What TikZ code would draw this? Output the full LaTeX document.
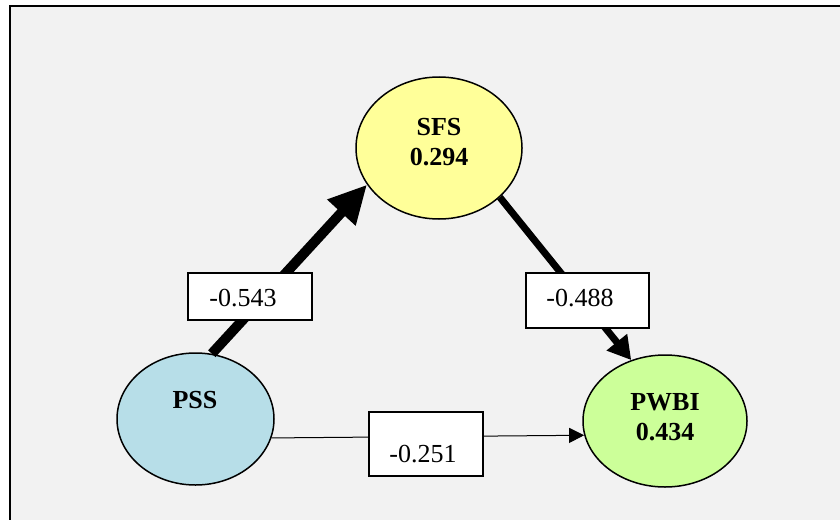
\documentclass[tikz,border=0pt]{standalone}
\usepackage{fontspec}
\setmainfont{Liberation Serif}
\usetikzlibrary{shapes.geometric,arrows.meta}
\definecolor{bgc}{HTML}{F2F2F2}
\definecolor{sfsc}{HTML}{FFFF99}
\definecolor{pssc}{HTML}{B7DEE8}
\definecolor{pwbic}{HTML}{CCFF99}
\tikzset{
  ell/.style={ellipse, draw=black, line width=1.5pt, inner sep=0pt},
  ttl/.style={font=\bfseries\fontsize{26}{30}\selectfont, align=center, inner sep=0pt},
  valbox/.style={rectangle, draw=black, line width=1.5pt, fill=white, inner sep=0pt},
  valtxt/.style={font=\fontsize{26}{30}\selectfont, inner sep=0pt},
}
\begin{document}
\begin{tikzpicture}[x=1pt,y=-1pt]
\useasboundingbox (0,0) rectangle (840,519);
\clip (0,0) rectangle (840,519);
\fill[white] (0,0) rectangle (840,519);
\draw[line width=2pt, fill=bgc] (10,6) rectangle (870,540);

% ellipses
\node[ell, fill=sfsc, minimum width=166pt, minimum height=142pt] (sfs) at (439,148) {};
\node[ell, fill=pssc, minimum width=157pt, minimum height=132pt] (pss) at (195.5,419) {};
\node[ell, fill=pwbic, minimum width=164pt, minimum height=132pt] (pwbi) at (665,421) {};

\node[ttl] (sfst) at (439,142) {SFS\\0.294};
\node[ttl] (psst) at (195,400) {PSS};
\node[ttl] (pwbit) at (665,417) {PWBI\\0.434};

% connectors
\draw[line width=10pt, -{Triangle[length=38pt,width=36pt]}] (pss.76) -- (sfs.207);
\draw[line width=7pt, -{Triangle[length=23pt,width=25pt]}] (sfs.321) -- (pwbi.119);
\draw[line width=1pt, -{Triangle[length=15pt,width=15pt]}] (pss.346) -- (pwbi.190);

% value boxes
\node[valbox, minimum width=124pt, minimum height=47pt] (b1) at (250,296.5) {};
\node[valtxt] (b1t) at (243,298) {-0.543};
\node[valbox, minimum width=123pt, minimum height=55pt] (b2) at (587.5,300.5) {};
\node[valtxt] (b2t) at (580,298) {-0.488};
\node[valbox, minimum width=114pt, minimum height=64pt] (b3) at (426,444) {};
\node[valtxt] (b3t) at (423,454) {-0.251};
\end{tikzpicture}
\end{document}
